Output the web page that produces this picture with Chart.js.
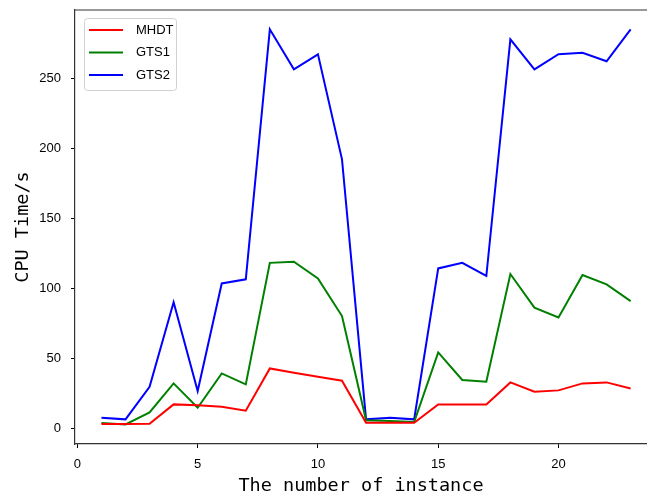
<!DOCTYPE html>
<html>
<head>
<meta charset="utf-8">
<script src="https://cdn.jsdelivr.net/npm/chart.js@4"></script>
<style>
  html, body { margin: 0; padding: 0; background: #fff; }
  #wrap { width: 647px; height: 497px; }
</style>
</head>
<body>
<div id="wrap"><canvas id="chart"></canvas></div>
<script>
var instances = [1,2,3,4,5,6,7,8,9,10,11,12,13,14,15,16,17,18,19,20,21,22,23];
var mhdt = [2.9,2.9,3.1,16.9,16.2,15.2,12.4,42.6,39.5,36.7,33.8,3.8,3.8,3.8,16.9,16.9,16.9,32.6,26,26.9,31.9,32.6,28.3];
var gts1 = [3.6,2.6,11.2,31.9,14.5,39,31.2,118,118.8,106.9,80,5.5,5,4.3,54,34.3,33.1,110,86,79,109.3,102.6,90.7];
var gts2 = [7.4,6.2,29.5,89.8,26.4,103.3,106.2,284.8,256.2,266.9,191.9,6.2,7.4,6.2,114,118,108.6,277.6,256.2,267,268,262,284.8];
var xTicks = [0,5,10,15,20];
var yTicks = [0,50,100,150,200,250];

function pts(arr) {
  return arr.map(function (v, i) { return {x: instances[i], y: v}; });
}

var tickFont = {family: 'Liberation Sans', size: 13};
var titleFont = {family: 'DejaVu Sans Mono', size: 18.5};

// top spine + legend drawn inside the plot, like matplotlib
var framePlugin = {
  id: 'frame',
  afterDraw: function (chart) {
    var c = chart.ctx, a = chart.chartArea;
    c.save();
    c.strokeStyle = '#333';
    c.lineWidth = 1.2;
    c.beginPath();
    c.moveTo(a.left, a.top);
    c.lineTo(a.right, a.top);
    c.stroke();

    // legend box
    var bx = a.left + 9, by = a.top + 8, bw = 92, bh = 72;
    c.fillStyle = 'rgba(255,255,255,0.8)';
    c.strokeStyle = '#d0d0d0';
    c.lineWidth = 1;
    c.beginPath();
    c.roundRect(bx + 0.5, by + 0.5, bw, bh, 3);
    c.fill();
    c.stroke();
    c.font = '13px "Liberation Sans"';
    c.textBaseline = 'middle';
    chart.data.datasets.forEach(function (ds, i) {
      var y = by + 12 + i * 22.5;
      c.strokeStyle = ds.borderColor;
      c.lineWidth = 2;
      c.beginPath();
      c.moveTo(bx + 5, y);
      c.lineTo(bx + 39, y);
      c.stroke();
      c.fillStyle = '#000';
      c.fillText(ds.label, bx + 52, y);
    });
    c.restore();
  }
};

var ctx = document.getElementById('chart').getContext('2d');
var myChart = new Chart(ctx, {
  type: 'line',
  data: {
    datasets: [
      {label: 'MHDT', data: pts(mhdt), borderColor: '#ff0000', borderWidth: 2, pointRadius: 0, fill: false, tension: 0},
      {label: 'GTS1', data: pts(gts1), borderColor: '#008000', borderWidth: 2, pointRadius: 0, fill: false, tension: 0},
      {label: 'GTS2', data: pts(gts2), borderColor: '#0000ff', borderWidth: 2, pointRadius: 0, fill: false, tension: 0}
    ]
  },
  options: {
    responsive: true,
    maintainAspectRatio: false,
    animation: false,
    layout: {padding: {top: 10, right: 0, left: 0, bottom: 0}},
    plugins: {legend: {display: false}, tooltip: {enabled: false}},
    scales: {
      x: {
        type: 'linear',
        min: -0.1,
        max: 23.68,
        afterBuildTicks: function (s) { s.ticks = xTicks.map(function (v) { return {value: v}; }); },
        afterFit: function (s) { s.height = 53; s.paddingLeft = 0; s.paddingRight = 0; },
        grid: {drawOnChartArea: false, drawTicks: true, tickLength: 4, color: '#000'},
        border: {display: true, color: '#333', width: 1.2},
        ticks: {color: '#000', font: tickFont, padding: 9, maxRotation: 0},
        title: {display: true, text: 'The number of instance', color: '#000', font: titleFont, padding: {top: 0, bottom: 0}}
      },
      y: {
        min: -11.4,
        max: 298.6,
        afterBuildTicks: function (s) { s.ticks = yTicks.map(function (v) { return {value: v}; }); },
        afterFit: function (s) { s.width = 75; s.paddingTop = 0; s.paddingBottom = 0; },
        grid: {drawOnChartArea: false, drawTicks: true, tickLength: 4, color: '#000'},
        border: {display: true, color: '#333', width: 1.2},
        ticks: {color: '#000', font: tickFont, padding: 10},
        title: {display: true, text: 'CPU Time/s', color: '#000', font: titleFont, padding: {top: 12, bottom: 0}}
      }
    }
  },
  plugins: [framePlugin]
});
</script>
</body>
</html>
